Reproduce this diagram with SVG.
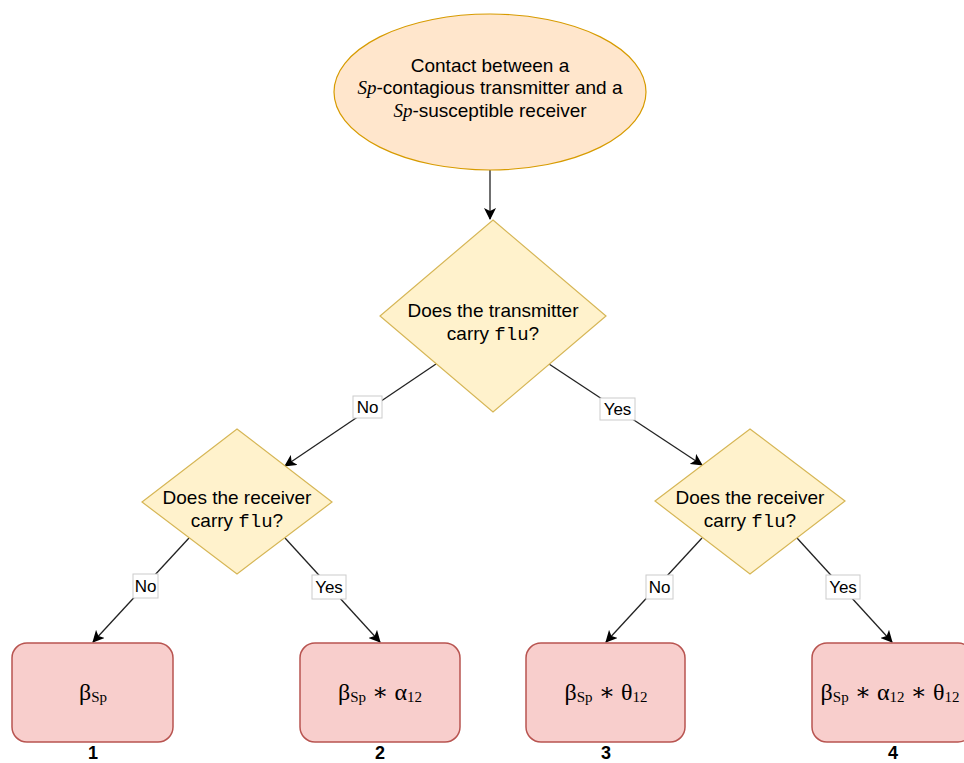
<svg xmlns="http://www.w3.org/2000/svg" width="964" height="763" viewBox="0 0 964 763">
<defs>
<marker id="arr" viewBox="0 0 12 12" refX="11" refY="6" markerWidth="12" markerHeight="12" markerUnits="userSpaceOnUse" orient="auto">
<path d="M0,0 L12,6 L0,12 L3,6 Z" fill="#000"/>
</marker>
<style>
.t{font-family:"Liberation Sans",Arial,sans-serif;font-size:19px;fill:#000;text-anchor:middle}
.m{font-family:"Liberation Serif","DejaVu Serif",serif;font-style:italic}
.tt{font-family:"Liberation Mono","DejaVu Sans Mono",monospace}
.f{font-family:"Liberation Serif","DejaVu Serif",serif;font-size:24px;fill:#000;text-anchor:middle}
.sub{font-size:15px}
.num{font-family:"Liberation Sans",Arial,sans-serif;font-size:18px;font-weight:bold;text-anchor:middle}
.lbl{font-family:"Liberation Sans",Arial,sans-serif;font-size:17px;text-anchor:middle}
.lb{fill:#fff;stroke:#ccc;stroke-width:1}
.e{stroke:#222;stroke-width:1.3;fill:none;marker-end:url(#arr)}
.dia{fill:#fff2cc;stroke:#d6b656;stroke-width:1.2}
.box{fill:#f8cecc;stroke:#b85450;stroke-width:1.5}
</style>
</defs>
<rect width="964" height="763" fill="#fff"/>
<g id="connectors">
<line class="e" x1="490" y1="170" x2="490" y2="219"/>
<line class="e" x1="436" y1="364" x2="285" y2="466"/>
<line class="e" x1="549" y1="364" x2="702" y2="465"/>
<line class="e" x1="189" y1="538" x2="93" y2="642"/>
<line class="e" x1="285" y1="538" x2="380" y2="642"/>
<line class="e" x1="702" y1="538" x2="606" y2="642"/>
<line class="e" x1="797" y1="538" x2="892" y2="642"/>
<rect class="lb" x="353" y="396" width="29" height="22"/>
<text class="lbl" x="367.5" y="413">No</text>
<rect class="lb" x="600" y="398" width="35" height="22"/>
<text class="lbl" x="617.5" y="415">Yes</text>
<rect class="lb" x="133" y="574" width="25" height="24"/>
<text class="lbl" x="145.5" y="592">No</text>
<rect class="lb" x="312" y="575" width="34" height="24"/>
<text class="lbl" x="329" y="593">Yes</text>
<rect class="lb" x="646" y="575" width="27" height="24"/>
<text class="lbl" x="659.5" y="593">No</text>
<rect class="lb" x="826" y="575" width="34" height="24"/>
<text class="lbl" x="843" y="593">Yes</text>
</g>
<g id="start">
<ellipse cx="490" cy="92" rx="156" ry="78" fill="#ffe6cc" stroke="#d79b00" stroke-width="1.2"/>
<text class="t" x="490" y="72">Contact between a</text>
<text class="t" x="490" y="94"><tspan class="m">Sp</tspan>-contagious transmitter and a</text>
<text class="t" x="490" y="117"><tspan class="m">Sp</tspan>-susceptible receiver</text>
</g>
<g id="q-transmitter">
<polygon class="dia" points="493,220 606,316 493,412 380,316"/>
<text class="t" x="493" y="317">Does the transmitter</text>
<text class="t" x="493" y="340">carry <tspan class="tt">flu</tspan>?</text>
</g>
<g id="q-receiver-left">
<polygon class="dia" points="237,429 332,502 237,574 142,502"/>
<text class="t" x="237" y="504">Does the receiver</text>
<text class="t" x="237" y="527">carry <tspan class="tt">flu</tspan>?</text>
</g>
<g id="q-receiver-right">
<polygon class="dia" points="750,429 845,501 750,574 655,501"/>
<text class="t" x="750" y="504">Does the receiver</text>
<text class="t" x="750" y="527">carry <tspan class="tt">flu</tspan>?</text>
</g>
<g id="out1">
<rect class="box" x="12" y="643" width="161" height="99" rx="15"/>
<text class="f" x="93" y="700">β<tspan class="sub" dy="2">Sp</tspan></text>
<text class="num" x="93" y="759">1</text>
</g>
<g id="out2">
<rect class="box" x="300" y="643" width="160" height="99" rx="15"/>
<text class="f" x="380" y="700">β<tspan class="sub" dy="2">Sp</tspan><tspan dy="-2"> ∗ α</tspan><tspan class="sub" dy="2">12</tspan></text>
<text class="num" x="380" y="759">2</text>
</g>
<g id="out3">
<rect class="box" x="526" y="643" width="159" height="99" rx="15"/>
<text class="f" x="606" y="700">β<tspan class="sub" dy="2">Sp</tspan><tspan dy="-2"> ∗ θ</tspan><tspan class="sub" dy="2">12</tspan></text>
<text class="num" x="606" y="759">3</text>
</g>
<g id="out4">
<rect class="box" x="812" y="643" width="161" height="99" rx="15"/>
<text class="f" x="890" y="700">β<tspan class="sub" dy="2">Sp</tspan><tspan dy="-2"> ∗ α</tspan><tspan class="sub" dy="2">12</tspan><tspan dy="-2"> ∗ θ</tspan><tspan class="sub" dy="2">12</tspan></text>
<text class="num" x="893" y="759">4</text>
</g>
</svg>
